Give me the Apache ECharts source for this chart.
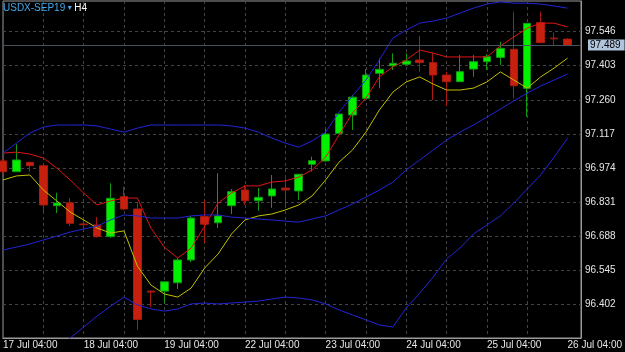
<!DOCTYPE html>
<html>
<head>
<meta charset="utf-8">
<title>USDX-SEP19 H4</title>
<script src="https://cdn.jsdelivr.net/npm/echarts@6/dist/echarts.min.js"></script>
<style>
  html, body { margin: 0; padding: 0; background: #000; }
  #chart { width: 625px; height: 352px; }
</style>
</head>
<body>
<div id="chart"></div>
<script>
// H4 bars, last category is empty space on the right
const categories = [
  '17 Jul 04:00', '17 Jul 08:00', '17 Jul 12:00', '17 Jul 16:00', '17 Jul 20:00', '18 Jul 00:00',
  '18 Jul 04:00', '18 Jul 08:00', '18 Jul 12:00', '18 Jul 16:00', '18 Jul 20:00', '19 Jul 00:00',
  '19 Jul 04:00', '19 Jul 08:00', '19 Jul 12:00', '19 Jul 16:00', '19 Jul 20:00', '22 Jul 00:00',
  '22 Jul 04:00', '22 Jul 08:00', '22 Jul 12:00', '22 Jul 16:00', '22 Jul 20:00', '23 Jul 00:00',
  '23 Jul 04:00', '23 Jul 08:00', '23 Jul 12:00', '23 Jul 16:00', '23 Jul 20:00', '24 Jul 00:00',
  '24 Jul 04:00', '24 Jul 08:00', '24 Jul 12:00', '24 Jul 16:00', '24 Jul 20:00', '25 Jul 00:00',
  '25 Jul 04:00', '25 Jul 08:00', '25 Jul 12:00', '25 Jul 16:00', '25 Jul 20:00', '26 Jul 00:00',
  '26 Jul 04:00', ''
];

// [open, close, low, high]
const candles = [
  [97.003, 96.958, 96.952, 97.011],
  [96.958, 97.007, 96.956, 97.073],
  [96.997, 96.983, 96.958, 97.000],
  [96.983, 96.818, 96.784, 96.990],
  [96.815, 96.826, 96.784, 96.869],
  [96.827, 96.741, 96.729, 96.847],
  [96.738, 96.735, 96.717, 96.763],
  [96.734, 96.685, 96.681, 96.767],
  [96.685, 96.846, 96.679, 96.909],
  [96.853, 96.801, 96.797, 96.895],
  [96.801, 96.337, 96.293, 96.826],
  [96.456, 96.452, 96.389, 96.458],
  [96.456, 96.495, 96.405, 96.498],
  [96.491, 96.587, 96.465, 96.595],
  [96.587, 96.763, 96.578, 96.772],
  [96.769, 96.737, 96.658, 96.839],
  [96.743, 96.772, 96.721, 96.951],
  [96.815, 96.874, 96.780, 96.885],
  [96.881, 96.836, 96.818, 96.902],
  [96.836, 96.850, 96.794, 96.889],
  [96.856, 96.885, 96.806, 96.944],
  [96.889, 96.881, 96.818, 96.931],
  [96.877, 96.947, 96.839, 96.948],
  [96.989, 97.004, 96.958, 97.021],
  [97.003, 97.116, 97.000, 97.136],
  [97.119, 97.200, 97.116, 97.204],
  [97.196, 97.271, 97.133, 97.280],
  [97.266, 97.364, 97.263, 97.389],
  [97.371, 97.388, 97.308, 97.434],
  [97.403, 97.413, 97.385, 97.455],
  [97.409, 97.423, 97.406, 97.455],
  [97.427, 97.416, 97.378, 97.528],
  [97.416, 97.364, 97.259, 97.455],
  [97.364, 97.336, 97.234, 97.378],
  [97.336, 97.378, 97.335, 97.448],
  [97.389, 97.420, 97.357, 97.448],
  [97.420, 97.441, 97.385, 97.451],
  [97.438, 97.476, 97.406, 97.504],
  [97.472, 97.319, 97.266, 97.630],
  [97.308, 97.581, 97.189, 97.582],
  [97.584, 97.500, 97.498, 97.630],
  [97.519, 97.516, 97.490, 97.543],
  [97.515, 97.489, 97.486, 97.519]
];

// fast moving average (red)
const maFast = [
  97.036, 97.040, 97.032, 97.015, 96.973, 96.923, 96.868, 96.818, 96.835, 96.847,
  96.847, 96.721, 96.641, 96.595, 96.637, 96.729, 96.826, 96.868, 96.898, 96.898,
  96.914, 96.919, 96.935, 96.965, 97.019, 97.112, 97.204, 97.267, 97.356, 97.398,
  97.427, 97.469, 97.456, 97.440, 97.440, 97.440, 97.440, 97.486, 97.524, 97.561,
  97.582, 97.582, 97.566
];

// slow moving average (yellow)
const maSlow = [
  96.923, 96.940, 96.944, 96.881, 96.835, 96.788, 96.755, 96.721, 96.700, 96.709,
  96.561, 96.482, 96.444, 96.431, 96.469, 96.553, 96.612, 96.696, 96.755, 96.772,
  96.780, 96.797, 96.818, 96.856, 96.923, 96.998, 97.049, 97.124, 97.217, 97.292,
  97.335, 97.356, 97.326, 97.301, 97.301, 97.309, 97.335, 97.377, 97.343, 97.309,
  97.356, 97.393, 97.435
];

// bollinger bands (blue)
const bandUpper = [
  97.036, 97.078, 97.120, 97.145, 97.154, 97.154, 97.154, 97.150, 97.137, 97.124,
  97.141, 97.154, 97.154, 97.154, 97.154, 97.154, 97.154, 97.150, 97.141, 97.124,
  97.099, 97.078, 97.061, 97.087, 97.124, 97.208, 97.276, 97.343, 97.427, 97.519,
  97.553, 97.582, 97.591, 97.603, 97.624, 97.645, 97.662, 97.671, 97.666, 97.666,
  97.662, 97.654, 97.645
];
const bandMiddle = [
  96.629, 96.641, 96.654, 96.671, 96.687, 96.704, 96.717, 96.729, 96.755, 96.776,
  96.772, 96.763, 96.763, 96.763, 96.772, 96.776, 96.776, 96.767, 96.763, 96.759,
  96.755, 96.750, 96.746, 96.759, 96.772, 96.797, 96.822, 96.851, 96.881, 96.914,
  96.965, 97.007, 97.049, 97.091, 97.124, 97.154, 97.187, 97.221, 97.255, 97.288,
  97.318, 97.343, 97.368
];
const bandLower = [
  96.221, 96.204, 96.188, 96.196, 96.221, 96.259, 96.305, 96.351, 96.393, 96.431,
  96.398, 96.381, 96.372, 96.381, 96.402, 96.406, 96.402, 96.406, 96.410, 96.414,
  96.423, 96.431, 96.427, 96.419, 96.402, 96.377, 96.356, 96.335, 96.314, 96.305,
  96.385, 96.448, 96.515, 96.591, 96.637, 96.696, 96.734, 96.772, 96.826, 96.885,
  96.944, 97.019, 97.099
];

const bidPrice = 97.489;
const priceMin = 96.259;
const priceMax = 97.675;
const priceStep = 0.143;

const chart = echarts.init(document.getElementById('chart'));

const lineSeries = (data, color) => ({
  type: 'line',
  data: data,
  showSymbol: false,
  symbol: 'none',
  clip: true,
  silent: true,
  z: 3,
  lineStyle: { color: color, width: 1 },
});

const option = {
  backgroundColor: '#000',
  animation: false,
  textStyle: { fontFamily: 'Liberation Sans, Arial, sans-serif' },
  title: {
    left: 3,
    top: 3,
    padding: 0,
    text: '{a|USDX-SEP19}{b| ▾ }{c|H4}',
    textStyle: {
      fontWeight: 'normal',
      rich: {
        a: { color: '#44a8ea', fontSize: 10, fontWeight: 'normal', fontFamily: 'Liberation Sans' },
        b: { color: '#44a8ea', fontSize: 8, fontWeight: 'normal', fontFamily: 'DejaVu Sans' },
        c: { color: '#ffffff', fontSize: 10, fontWeight: 'normal', fontFamily: 'Liberation Sans' },
      },
    },
  },
  grid: {
    left: 1,
    right: 38,
    top: 1,
    bottom: 14,
    show: true,
    backgroundColor: '#000',
    borderColor: '#9a9a9a',
    borderWidth: 1,
  },
  xAxis: {
    type: 'category',
    data: categories,
    boundaryGap: false,
    axisLine: { show: true, lineStyle: { color: '#9a9a9a' } },
    axisTick: { show: false },
    axisLabel: {
      interval: 5,
      align: 'left',
      margin: 2,
      color: '#e6e6e6',
      fontSize: 10,
    },
    splitLine: {
      show: true,
      interval: 2,
      showMinLine: false,
      showMaxLine: false,
      lineStyle: { color: '#444', type: [3, 3], width: 1 },
    },
  },
  yAxis: {
    type: 'value',
    position: 'right',
    min: priceMin,
    max: priceMax,
    interval: priceStep,
    scale: true,
    axisLine: { show: true, lineStyle: { color: '#9a9a9a' } },
    axisTick: { show: false },
    axisLabel: {
      margin: 4,
      color: '#e6e6e6',
      fontSize: 10,
      showMinLabel: false,
      showMaxLabel: false,
      formatter: v => v.toFixed(3),
    },
    splitLine: {
      show: true,
      showMinLine: false,
      showMaxLine: false,
      lineStyle: { color: '#444', type: [3, 3], width: 1 },
    },
  },
  series: [
    {
      type: 'candlestick',
      data: candles,
      barWidth: 8,
      clip: true,
      z: 2,
      itemStyle: {
        color: '#00f000',
        color0: '#c8200e',
        borderColor: '#129a12',
        borderColor0: '#a81a10',
        borderWidth: 1,
      },
      markLine: {
        silent: true,
        symbol: 'none',
        lineStyle: { color: '#46525c', type: 'solid', width: 1 },
        label: {
          position: 'end',
          distance: 7,
          formatter: () => bidPrice.toFixed(3),
          color: '#000',
          fontSize: 10,
          backgroundColor: '#b0c4de',
          padding: [1, 4, 0, 2],
        },
        data: [{ yAxis: bidPrice }],
      },
    },
    lineSeries(maFast, '#e01414'),
    lineSeries(maSlow, '#c0c000'),
    lineSeries(bandUpper, '#2424d8'),
    lineSeries(bandMiddle, '#2424d8'),
    lineSeries(bandLower, '#2424d8'),
  ],
};

chart.setOption(option);
</script>
</body>
</html>
